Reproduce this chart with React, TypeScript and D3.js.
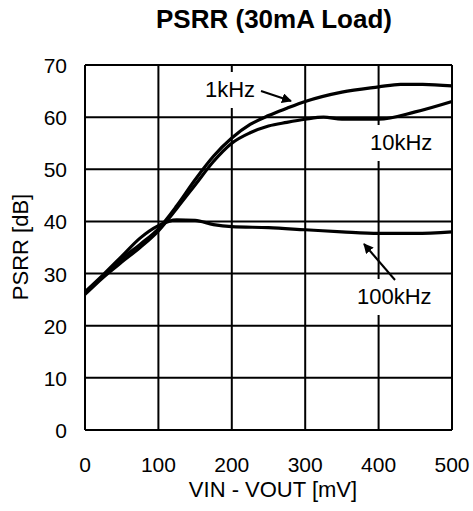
import React from "react";
import * as d3 from "d3";

const xTicks = [0, 100, 200, 300, 400, 500];
const yTicks = [0, 10, 20, 30, 40, 50, 60, 70];

const x1k = [0, 25, 50, 75, 100, 125, 150, 175, 200, 225, 250, 275, 300, 350, 400, 430, 460, 500];
const y1k = [26.3, 29.6, 32.8, 35.6, 38.6, 43, 48, 52.5, 56, 58.6, 60.3, 61.7, 63, 64.8, 65.8, 66.3, 66.3, 66.0];

const x10k = [0, 25, 50, 75, 100, 125, 150, 175, 200, 225, 250, 275, 300, 325, 350, 400, 450, 500];
const y10k = [26, 29.3, 32.2, 35, 38.2, 42.5, 47, 51.5, 55, 57, 58.3, 59, 59.6, 60, 59.6, 59.6, 61, 63];

const x100k = [0, 25, 50, 75, 100, 125, 150, 175, 200, 250, 300, 350, 400, 450, 500];
const y100k = [26.5, 29.8, 33.3, 36.8, 39.2, 40.3, 40.2, 39.4, 39.0, 38.8, 38.4, 38.0, 37.7, 37.7, 38.0];

const labels = [
  { text: "1kHz", x: 205, y: 97, arrow: [261, 91, 291, 101] },
  { text: "10kHz", x: 370, y: 150, arrow: null },
  { text: "100kHz", x: 357, y: 304, arrow: [395, 280, 364, 244] },
];

const FONT = "'Liberation Sans', Arial, sans-serif";

export default function App() {
  const left = 85, right = 452, top = 65, bottom = 430;
  const xs = d3.scaleLinear().domain([0, 500]).range([left, right]);
  const ys = d3.scaleLinear().domain([0, 70]).range([bottom, top]);
  const line = d3
    .line<[number, number]>()
    .x((d) => xs(d[0]))
    .y((d) => ys(d[1]))
    .curve(d3.curveMonotoneX);
  const series = [
    x1k.map((v, i) => [v, y1k[i]] as [number, number]),
    x10k.map((v, i) => [v, y10k[i]] as [number, number]),
    x100k.map((v, i) => [v, y100k[i]] as [number, number]),
  ];
  return (
    <svg
      width={473}
      height={511}
      style={{ position: "absolute", left: 0, top: 0, background: "#fff" }}
      fontFamily={FONT}
    >
      <defs>
        <marker id="ah" viewBox="0 0 10 10" refX="9" refY="5" markerWidth="5" markerHeight="5" orient="auto">
          <path d="M0,0 L10,5 L0,10 z" fill="#000" />
        </marker>
      </defs>
      <rect x={0} y={0} width={473} height={511} fill="#fff" />
      <text x={274} y={28} textAnchor="middle" fontWeight="bold" fontSize={26}>
        PSRR (30mA Load)
      </text>
      {xTicks.map((t) => (
        <line key={"gx" + t} x1={xs(t)} x2={xs(t)} y1={top} y2={bottom} stroke="#000" strokeWidth={2} />
      ))}
      {yTicks.map((t) => (
        <line key={"gy" + t} x1={left} x2={right} y1={ys(t)} y2={ys(t)} stroke="#000" strokeWidth={2} />
      ))}
      {labels.map((l) => (
        <rect key={"bg" + l.text} x={l.x - 2} y={l.y - 25} width={l.text.length * 12.5 + 4} height={36} fill="#fff" />
      ))}
      {series.map((s, i) => (
        <path key={"s" + i} d={line(s) || ""} fill="none" stroke="#000" strokeWidth={3.2} />
      ))}
      {labels.map((l) => (
        <g key={"l" + l.text}>
          <text x={l.x} y={l.y} fontSize={22}>
            {l.text}
          </text>
          {l.arrow && (
            <line
              x1={l.arrow[0]}
              y1={l.arrow[1]}
              x2={l.arrow[2]}
              y2={l.arrow[3]}
              stroke="#000"
              strokeWidth={2}
              markerEnd="url(#ah)"
            />
          )}
        </g>
      ))}
      {xTicks.map((t) => (
        <text key={"tx" + t} x={xs(t)} y={472} textAnchor="middle" fontSize={21}>
          {t}
        </text>
      ))}
      {yTicks.map((t) => (
        <text key={"ty" + t} x={67} y={ys(t) + 8} textAnchor="end" fontSize={21}>
          {t}
        </text>
      ))}
      <text x={273} y={497} textAnchor="middle" fontSize={22}>
        VIN - VOUT [mV]
      </text>
      <text transform="translate(28,247) rotate(-90)" textAnchor="middle" fontSize={22}>
        PSRR [dB]
      </text>
    </svg>
  );
}
